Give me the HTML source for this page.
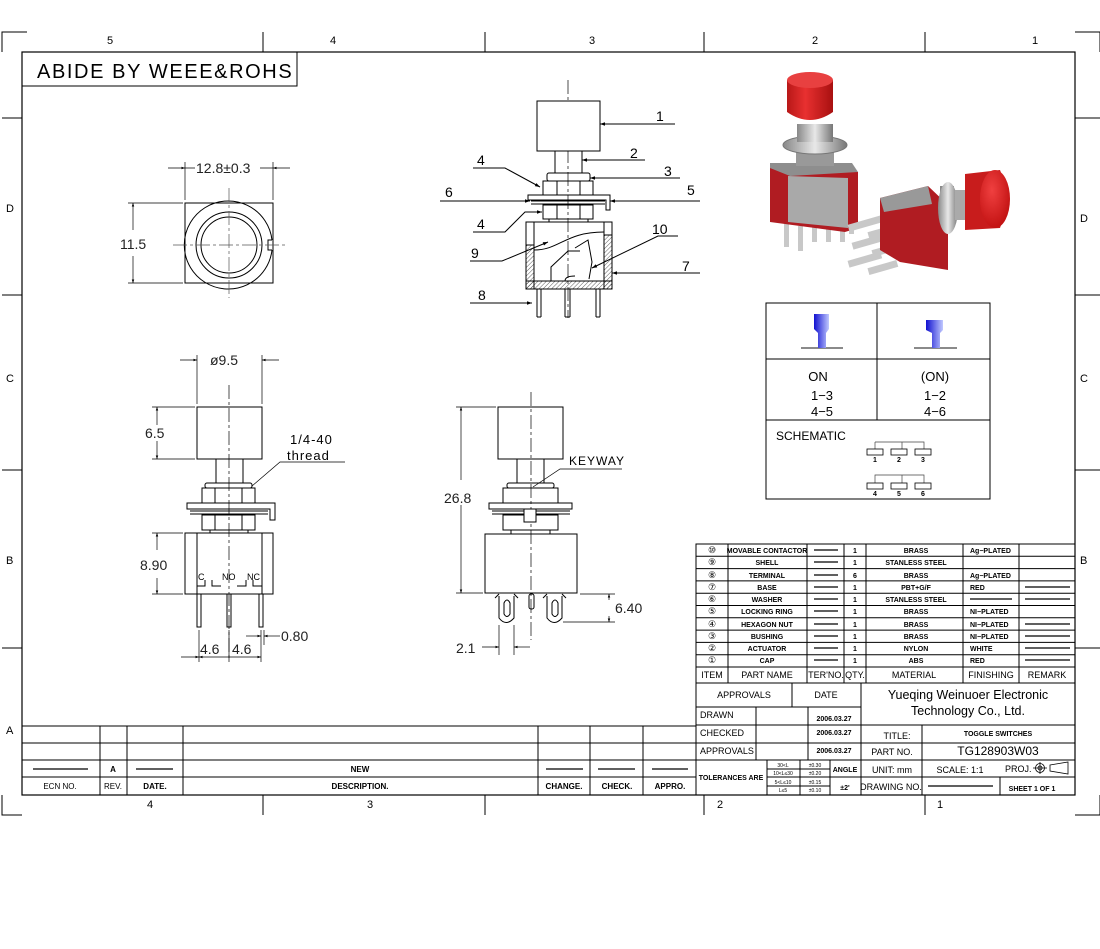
<!DOCTYPE html>
<html><head><meta charset="utf-8">
<style>
html,body{margin:0;padding:0;background:#fff;}
svg{display:block;}
text{font-family:"Liberation Sans",sans-serif;fill:#000;}
.t{font-size:7px;font-weight:bold;}
.h{font-size:9px;}
.d{font-size:14px;fill:#222;}
</style></head>
<body>
<svg width="1100" height="949" viewBox="0 0 1100 949" xmlns="http://www.w3.org/2000/svg">
<defs>
<pattern id="hat" width="3" height="3" patternUnits="userSpaceOnUse" patternTransform="rotate(45)"><line x1="0" y1="0" x2="0" y2="3" stroke="#333" stroke-width="0.8"/></pattern>
<linearGradient id="blu" x1="0" x2="1"><stop offset="0" stop-color="#1010d0"/><stop offset="1" stop-color="#c0c8ff"/></linearGradient>
<linearGradient id="capg" x1="0" x2="1"><stop offset="0" stop-color="#b81818"/><stop offset="0.4" stop-color="#e83030"/><stop offset="1" stop-color="#a81010"/></linearGradient>
<linearGradient id="sil" x1="0" x2="1"><stop offset="0" stop-color="#888"/><stop offset="0.5" stop-color="#e8e8e8"/><stop offset="1" stop-color="#777"/></linearGradient>
<radialGradient id="red" cx="0.4" cy="0.35" r="0.7"><stop offset="0" stop-color="#f04040"/><stop offset="1" stop-color="#c01010"/></radialGradient>
<marker id="a" viewBox="0 0 10 10" refX="10" refY="5" markerWidth="7" markerHeight="5" orient="auto-start-reverse"><path d="M0,1.5 L10,5 L0,8.5z" fill="#000"/></marker>
</defs>
<g stroke="#000" fill="none" stroke-width="1">
<rect x="22" y="52" width="1053" height="743" stroke-width="1.2"/>
<path d="M2,52 V32 H27 M1100,52 V32 H1075 M2,795 V815 H22 M1100,795 V815 H1075"/>
<path d="M263,32 V52 M485,32 V52 M704,32 V52 M925,32 V52 M263,795 V815 M485,795 V815 M704,795 V815 M925,795 V815"/>
<path d="M2,118 H22 M2,295 H22 M2,470 H22 M2,648 H22 M1075,118 H1100 M1075,295 H1100 M1075,470 H1100 M1075,648 H1100"/>
<rect x="22" y="52" width="275" height="34"/>
</g>
<g font-size="11" fill="#333">
<text x="107" y="44">5</text><text x="330" y="44">4</text><text x="589" y="44">3</text><text x="812" y="44">2</text><text x="1032" y="44">1</text>
<text x="6" y="212">D</text><text x="6" y="382">C</text><text x="6" y="564">B</text><text x="6" y="734">A</text>
<text x="1080" y="222">D</text><text x="1080" y="382">C</text><text x="1080" y="564">B</text>
<text x="147" y="808">4</text><text x="367" y="808">3</text><text x="717" y="808">2</text><text x="937" y="808">1</text>
</g>
<text x="37" y="78" style="font-size:20px;letter-spacing:1.6px">ABIDE  BY  WEEE&amp;ROHS</text>

<!-- top view -->
<g stroke="#000" fill="none">
<rect x="185" y="203" width="88" height="80"/>
<path d="M272,240 A44,44 0 1 0 272,250" />
<path d="M272,240 H268 V250 H272"/>
<circle cx="229" cy="245" r="33"/><circle cx="229" cy="245" r="28"/>
<path d="M173,245 H285 M229,188 V298" stroke="#555" stroke-width="0.7" stroke-dasharray="14,3,3,3"/>
<path d="M185,200 V162 M273,200 V162 M128,203 H183 M128,283 H183" stroke-width="0.7"/>
<path d="M168,168 H185" marker-end="url(#a)" stroke-width="0.7"/><path d="M290,168 H273" marker-end="url(#a)" stroke-width="0.7"/>
<path d="M185,168 H195 M260,168 H273" stroke-width="0.7"/>
<path d="M133,230 V203" marker-end="url(#a)" stroke-width="0.7"/><path d="M133,256 V283" marker-end="url(#a)" stroke-width="0.7"/>
</g>
<text class="d" x="196" y="173">12.8±0.3</text>
<text class="d" x="120" y="249">11.5</text>

<!-- section view -->
<g stroke="#000" fill="none" stroke-width="1">
<path d="M568,80 V318" stroke-dasharray="14,3,3,3" stroke-width="0.7"/>
<rect x="537" y="101" width="63" height="50" fill="#fff"/>
<rect x="555" y="151" width="27" height="22"/>
<rect x="547" y="173" width="43" height="8" rx="2"/>
<rect x="543" y="181" width="50" height="14"/>
<path d="M557,181 V195 M580,181 V195"/>
<path d="M528,195 H610 V210 H606 V200 H528 Z"/>
<path d="M531,201 H605 M531,204 H605"/>
<rect x="543" y="205" width="50" height="14"/>
<path d="M557,205 V219 M580,205 V219 M549,219 V222 M588,219 V222"/>
<rect x="526" y="222" width="86" height="67"/>
<rect x="526" y="245" width="8" height="44" fill="url(#hat)"/>
<rect x="604" y="235" width="8" height="54" fill="url(#hat)"/>
<rect x="526" y="281" width="86" height="8" fill="url(#hat)"/>
<path d="M534,222 V245 M604,222 V235"/>
<path d="M534,250 C560,250 565,232 604,232"/>
<path d="M551,281 V267 L568,251 H580 M575,248 L588,240 L592,262 L589,279"/>
<path d="M537,289 V317 M541,289 V317 M537,317 H541"/>
<path d="M565,289 V317 M570,289 V317 M565,317 H570 M565,281 Q565,276 575,276"/>
<path d="M596,289 V317 M600,289 V317 M596,317 H600"/>
<path d="M675,124 H600" marker-end="url(#a)"/>
<path d="M645,160 H582" marker-end="url(#a)"/>
<path d="M680,178 H590" marker-end="url(#a)"/>
<path d="M473,168 H505 L540,187" marker-end="url(#a)"/>
<path d="M440,201 H530" marker-end="url(#a)"/>
<path d="M700,201 H610" marker-end="url(#a)"/>
<path d="M473,232 H505 L525,212 H542" marker-end="url(#a)"/>
<path d="M470,261 H502 L548,242" marker-end="url(#a)"/>
<path d="M678,236 H658 L592,268" marker-end="url(#a)"/>
<path d="M700,273 H612" marker-end="url(#a)"/>
<path d="M470,303 H532" marker-end="url(#a)"/>
</g>
<g font-size="14"><text x="656" y="121">1</text><text x="630" y="158">2</text><text x="664" y="176">3</text><text x="477" y="165">4</text><text x="445" y="197">6</text><text x="687" y="195">5</text><text x="477" y="229">4</text><text x="471" y="258">9</text><text x="652" y="234">10</text><text x="682" y="271">7</text><text x="478" y="300">8</text></g>

<!-- front view -->
<g stroke="#000" fill="none" stroke-width="1">
<path d="M229,385 V660" stroke-dasharray="14,3,3,3" stroke-width="0.7"/>
<rect x="197" y="407" width="65" height="52"/>
<rect x="216" y="459" width="27" height="24"/>
<rect x="205" y="483" width="47" height="5" rx="2"/>
<rect x="202" y="488" width="53" height="15"/><path d="M215,488 V503 M242,488 V503"/>
<path d="M187,503 H275 V520 H270 V509 H187 Z"/><path d="M190,511 H268 M190,514 H268"/>
<rect x="202" y="515" width="53" height="15"/><path d="M215,515 V530 M242,515 V530"/>
<path d="M210,530 V533 M248,530 V533"/>
<rect x="185" y="533" width="88" height="61"/>
<path d="M197,533 V594 M262,533 V594 M197,586 H205 V580 M212,580 V586 H221 M237,586 H246 V580 M253,580 V586 H262"/>
<rect x="197" y="594" width="4" height="33"/><rect x="227" y="594" width="4" height="33"/><rect x="259" y="594" width="4" height="33"/>
<g stroke-width="0.7">
<path d="M197,404 V355 M262,404 V355"/>
<path d="M180,360 H197" marker-end="url(#a)"/><path d="M279,360 H262" marker-end="url(#a)"/>
<path d="M152,407 H195 M152,459 H195 M152,533 H183 M152,594 H183"/>
<path d="M157,425 V407" marker-end="url(#a)"/><path d="M157,441 V459" marker-end="url(#a)"/>
<path d="M157,550 V533" marker-end="url(#a)"/><path d="M157,578 V594" marker-end="url(#a)"/>
<path d="M199,630 V662 M229,630 V662 M261,630 V662 M264,630 V645"/>
<path d="M181,657 H199" marker-end="url(#a)"/><path d="M229,657 H199" marker-end="url(#a)"/><path d="M229,657 H261" marker-end="url(#a)"/>
<path d="M246,636 H261" marker-end="url(#a)"/><path d="M280,636 H264" marker-end="url(#a)"/>
<path d="M252,486 L280,462 H345"/>
</g>
</g>
<text class="d" x="210" y="365">ø9.5</text>
<text class="d" x="145" y="438">6.5</text>
<text class="d" x="140" y="570">8.90</text>
<text class="d" x="200" y="654">4.6</text><text class="d" x="232" y="654">4.6</text>
<text class="d" x="281" y="641">0.80</text>
<text x="290" y="444" font-size="13" fill="#222" style="letter-spacing:1px">1/4-40</text>
<text x="287" y="460" font-size="13" fill="#222" style="letter-spacing:1px">thread</text>
<text x="198" y="580" font-size="9">C</text><text x="222" y="580" font-size="9">NO</text><text x="247" y="580" font-size="9">NC</text>

<!-- side view -->
<g stroke="#000" fill="none" stroke-width="1">
<path d="M531,392 V640" stroke-dasharray="14,3,3,3" stroke-width="0.7"/>
<rect x="498" y="407" width="65" height="52"/>
<rect x="517" y="459" width="27" height="24"/>
<rect x="507" y="483" width="47" height="5" rx="2"/>
<rect x="503" y="488" width="55" height="15"/>
<path d="M489,503 H572 V509 H489 Z"/><path d="M492,511 H570 M492,514 H570"/>
<rect x="503" y="515" width="55" height="15"/>
<rect x="524" y="509" width="12" height="13" fill="#fff"/>
<path d="M511,530 V534 M550,530 V534"/>
<rect x="485" y="534" width="92" height="59"/>
<path d="M499,596 V618 Q506,627 514,618 V596 M504,603 Q507,597 510,603 V614 Q507,619 504,614 Z"/>
<path d="M547,596 V618 Q554,627 562,618 V596 M552,603 Q555,597 558,603 V614 Q555,619 552,614 Z"/>
<rect x="529" y="594" width="5" height="15" rx="2"/>
<path d="M495,598 L499,594 M518,598 L514,594 M543,598 L547,594 M566,598 L562,594"/>
<g stroke-width="0.7">
<path d="M456,407 H496 M456,593 H483"/>
<path d="M461,480 V407" marker-end="url(#a)"/><path d="M461,505 V593" marker-end="url(#a)"/>
<path d="M580,594 H615 M563,622 H615"/>
<path d="M609,600 V594" marker-end="url(#a)"/><path d="M609,616 V622" marker-end="url(#a)"/>
<path d="M499,625 V655 M514,625 V655"/>
<path d="M482,647 H499" marker-end="url(#a)"/><path d="M530,647 H514" marker-end="url(#a)"/>
<path d="M533,487 L560,469 H622"/>
</g>
</g>
<text class="d" x="444" y="503">26.8</text>
<text class="d" x="615" y="613">6.40</text>
<text class="d" x="456" y="653">2.1</text>
<text x="569" y="465" font-size="12" fill="#222" style="letter-spacing:1px">KEYWAY</text>

<!-- photo -->
<g>
<!-- left switch -->
<g fill="#c8c8c8"><rect x="784" y="222" width="5" height="25"/><rect x="798" y="226" width="5" height="25"/><rect x="812" y="220" width="5" height="22"/><rect x="826" y="222" width="5" height="20"/><rect x="840" y="218" width="5" height="24"/><rect x="849" y="214" width="5" height="20"/></g>
<path d="M770,168 L858,172 L858,228 L845,232 L770,222 Z" fill="#b01c22"/>
<path d="M788,176 L848,178 L848,228 L788,222 Z" fill="#a9a9a9"/>
<path d="M770,163 L852,163 L858,172 L790,176 L770,168 Z" fill="#8e8e8e"/>
<rect x="796" y="150" width="38" height="16" fill="#999"/>
<ellipse cx="815" cy="145" rx="32" ry="9" fill="url(#sil)" stroke="#777"/>
<path d="M797,124 H833 V142 H797 Z" fill="url(#sil)"/>
<path d="M787,80 V112 Q810,128 833,112 V80 Z" fill="url(#capg)"/>
<ellipse cx="810" cy="80" rx="23" ry="8" fill="#e84040"/>
<!-- right switch -->
<g fill="#c8c8c8"><rect x="848" y="220" width="34" height="7" transform="rotate(-16 865 224)"/><rect x="852" y="238" width="34" height="7" transform="rotate(-16 869 242)"/><rect x="848" y="256" width="34" height="7" transform="rotate(-16 865 260)"/><rect x="868" y="228" width="30" height="7" transform="rotate(-16 883 232)"/><rect x="872" y="246" width="30" height="7" transform="rotate(-16 887 250)"/><rect x="868" y="264" width="30" height="7" transform="rotate(-16 883 268)"/></g>
<path d="M880,198 L928,186 L948,205 L948,270 L900,262 L880,250 Z" fill="#b01c22"/>
<path d="M880,198 L928,186 L932,204 L884,212 Z" fill="#999"/>
<rect x="940" y="186" width="14" height="36" fill="#8a8a8a"/>
<ellipse cx="948" cy="208" rx="10" ry="26" fill="url(#sil)"/>
<rect x="955" y="190" width="12" height="30" fill="#aaa"/>
<path d="M965,174 L1000,170 Q1012,198 1000,228 L965,230 Z" fill="#c81c1c"/>
<ellipse cx="995" cy="199" rx="15" ry="29" fill="url(#red)"/>
</g>

<!-- schematic box -->
<g stroke="#000" fill="none">
<rect x="766" y="303" width="224" height="196"/>
<path d="M877,303 V420 M766,359 H990 M766,420 H990"/>
<path d="M801,348 H843 M914,348 H957" stroke="#444" stroke-width="1.2"/>
<path d="M875,442 V449 M875,442 H902 V449 M891,442 H924 V449 M875,483 V475 H902 V483 M891,475 H924 V483" stroke="#444" stroke-width="0.7"/>
<rect x="867" y="449" width="16" height="6" stroke-width="0.8"/><rect x="891" y="449" width="16" height="6" stroke-width="0.8"/><rect x="915" y="449" width="16" height="6" stroke-width="0.8"/>
<rect x="867" y="483" width="16" height="6" stroke-width="0.8"/><rect x="891" y="483" width="16" height="6" stroke-width="0.8"/><rect x="915" y="483" width="16" height="6" stroke-width="0.8"/>
</g>
<path d="M814,314 H829 V329 L826,333 V348 H818 V333 L814,329 Z" fill="url(#blu)"/>
<path d="M926,320 H943 V330 L940,333 V348 H932 V333 L926,330 Z" fill="url(#blu)"/>
<g font-size="13" text-anchor="middle"><text x="818" y="381">ON</text><text x="822" y="400">1−3</text><text x="822" y="416">4−5</text><text x="935" y="381">(ON)</text><text x="935" y="400">1−2</text><text x="935" y="416">4−6</text></g>
<text x="776" y="440" font-size="12">SCHEMATIC</text>
<g font-size="7" font-weight="bold"><text x="873" y="462">1</text><text x="897" y="462">2</text><text x="921" y="462">3</text><text x="873" y="496">4</text><text x="897" y="496">5</text><text x="921" y="496">6</text></g>

<!-- parts table -->
<g stroke="#000" fill="none" stroke-width="1">
<rect x="696" y="544" width="379" height="251"/>
<path d="M696,556.3 H1075 M696,568.6 H1075 M696,580.9 H1075 M696,593.2 H1075 M696,605.5 H1075 M696,617.8 H1075 M696,630.1 H1075 M696,642.4 H1075 M696,654.7 H1075 M696,667 H1075 M696,683 H1075 M696,707 H861 M696,725 H1075 M696,743 H1075 M696,760 H1075 M830,777 H1075 M1000,777 V795"/>
<path d="M728,544 V683 M807,544 V683 M844,544 V683 M866,544 V683 M963,544 V683 M1019,544 V683"/>
<path d="M792,683 V707 M861,683 V795 M756,707 V760 M808,707 V760 M922,725 V795 M767,760 V795 M800,760 V795 M830,760 V795"/>
<path d="M767,769 H830 M767,777 H830 M767,786 H830"/>
<g stroke-width="1.2"><path d="M814,550 H838 M814,562 H838 M814,575 H838 M814,587 H838 M814,599 H838 M814,611 H838 M814,624 H838 M814,636 H838 M814,648 H838 M814,660 H838 M1025,587 H1070 M1025,599 H1070 M970,599 H1012 M1025,624 H1070 M1025,636 H1070 M1025,648 H1070 M1025,660 H1070 M928,786 H993"/></g>
</g>
<g class="t" text-anchor="middle" font-size="7">
<text x="916" y="553">BRASS</text><text x="916" y="565">STANLESS STEEL</text><text x="916" y="578">BRASS</text><text x="916" y="590">PBT+G/F</text><text x="916" y="602">STANLESS STEEL</text><text x="916" y="614">BRASS</text><text x="916" y="627">BRASS</text><text x="916" y="639">BRASS</text><text x="916" y="651">NYLON</text><text x="916" y="663">ABS</text>
<text x="767" y="553">MOVABLE CONTACTOR</text><text x="767" y="565">SHELL</text><text x="767" y="578">TERMINAL</text><text x="767" y="590">BASE</text><text x="767" y="602">WASHER</text><text x="767" y="614">LOCKING RING</text><text x="767" y="627">HEXAGON NUT</text><text x="767" y="639">BUSHING</text><text x="767" y="651">ACTUATOR</text><text x="767" y="663">CAP</text>
<text x="855" y="553">1</text><text x="855" y="565">1</text><text x="855" y="578">6</text><text x="855" y="590">1</text><text x="855" y="602">1</text><text x="855" y="614">1</text><text x="855" y="627">1</text><text x="855" y="639">1</text><text x="855" y="651">1</text><text x="855" y="663">1</text>
</g>
<g class="t" font-size="7"><text x="970" y="553">Ag−PLATED</text><text x="970" y="578">Ag−PLATED</text><text x="970" y="590">RED</text><text x="970" y="614">NI−PLATED</text><text x="970" y="627">NI−PLATED</text><text x="970" y="639">NI−PLATED</text><text x="970" y="651">WHITE</text><text x="970" y="663">RED</text></g>
<g font-size="9" text-anchor="middle">
<text x="712" y="553">⑩</text><text x="712" y="565">⑨</text><text x="712" y="578">⑧</text><text x="712" y="590">⑦</text><text x="712" y="602">⑥</text><text x="712" y="614">⑤</text><text x="712" y="627">④</text><text x="712" y="639">③</text><text x="712" y="651">②</text><text x="712" y="663">①</text>
</g>
<g class="h" text-anchor="middle">
<text x="712" y="678">ITEM</text><text x="767" y="678">PART NAME</text><text x="826" y="678">TER'NO.</text><text x="855" y="678">QTY.</text><text x="914" y="678">MATERIAL</text><text x="991" y="678">FINISHING</text><text x="1047" y="678">REMARK</text>
<text x="744" y="698">APPROVALS</text><text x="826" y="698">DATE</text>
<text x="897" y="739">TITLE:</text><text x="892" y="755">PART NO.</text>
<text x="892" y="773">UNIT: mm</text><text x="960" y="773">SCALE: 1:1</text>
<text x="891" y="790">DRAWING NO.</text><text x="845" y="772" class="t" font-size="8">ANGLE</text><text x="845" y="790" class="t" font-size="8">±2'</text>
</g>
<g class="h"><text x="700" y="718">DRAWN</text><text x="700" y="736">CHECKED</text><text x="700" y="754">APPROVALS</text><text x="1005" y="772">PROJ.</text></g>
<g class="t" font-size="6.5" text-anchor="middle"><text x="834" y="735">2006.03.27</text><text x="834" y="753">2006.03.27</text><text x="834" y="721">2006.03.27</text><text x="998" y="736">TOGGLE SWITCHES</text><text x="731" y="780">TOLERANCES ARE</text><text x="1032" y="791">SHEET   1  OF  1</text></g>
<g font-size="5" text-anchor="middle"><text x="783" y="767">30&lt;L</text><text x="783" y="775">10&lt;L≤30</text><text x="783" y="784">5&lt;L≤10</text><text x="783" y="792">L≤5</text><text x="815" y="767">±0.30</text><text x="815" y="775">±0.20</text><text x="815" y="784">±0.15</text><text x="815" y="792">±0.10</text></g>
<text x="998" y="755" font-size="12" text-anchor="middle">TG128903W03</text>
<text x="968" y="699" font-size="12.5" text-anchor="middle">Yueqing Weinuoer Electronic</text>
<text x="968" y="715" font-size="12.5" text-anchor="middle">Technology Co., Ltd.</text>
<g stroke="#000" fill="none" stroke-width="0.8"><circle cx="1040" cy="768" r="4.5"/><circle cx="1040" cy="768" r="2"/><path d="M1033,768 H1047 M1040,762 V774 M1050,765 L1068,762 V774 L1050,771 Z"/></g>

<!-- revision table -->
<g stroke="#000" fill="none" stroke-width="1">
<path d="M22,726 H696 M22,743 H696 M22,760 H696 M22,777 H696"/>
<path d="M100,726 V795 M127,726 V795 M183,726 V795 M538,726 V795 M590,726 V795 M643,726 V795 M696,726 V795"/>
<path d="M33,769 H88 M136,769 H173 M546,769 H583 M598,769 H635 M652,769 H688" stroke-width="1.2"/>
</g>
<g font-size="8" text-anchor="middle"><text x="113" y="772" font-weight="bold">A</text><text x="360" y="772" font-weight="bold">NEW</text><text x="60" y="789">ECN  NO.</text><text x="113" y="789">REV.</text><text x="155" y="789" font-weight="bold">DATE.</text><text x="360" y="789" font-weight="bold">DESCRIPTION.</text><text x="564" y="789" font-weight="bold">CHANGE.</text><text x="617" y="789" font-weight="bold">CHECK.</text><text x="670" y="789" font-weight="bold">APPRO.</text></g>
</svg>
</body></html>
